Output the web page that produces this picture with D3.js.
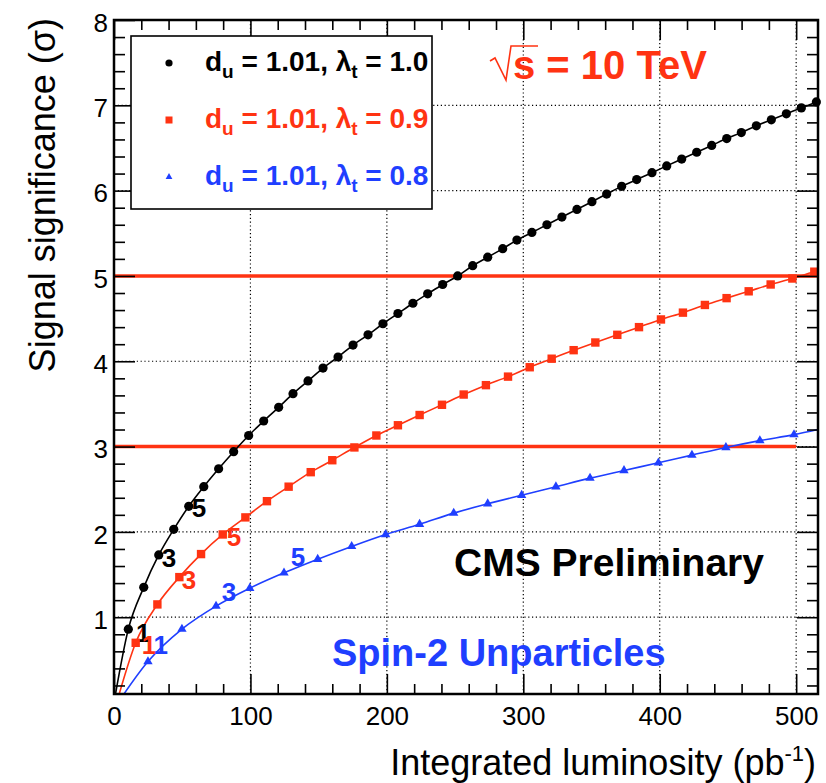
<!DOCTYPE html>
<meta charset="utf-8">
<body style="margin:0;background:#fff">
<script src="https://d3js.org/d3.v7.min.js"></script>
<script>

// integrated luminosity (pb^-1) and significance (sigma)
var blackLumi = [10.5, 21.8, 32.8, 43.8, 54.8, 65.8, 76.7, 87.7, 98.7, 109.7, 120.7,
  131.2, 142.2, 153.2, 164.2, 175.2, 186.2, 197.1, 208.1, 219.1, 229.9, 240.9, 251.9,
  262.9, 273.9, 284.9, 295.3, 306.3, 317.3, 328.3, 339.3, 350.3, 361.1, 372.1, 383.1,
  394.3, 405.1, 416.1, 427.1, 438.1, 449.1, 459.8, 470.8, 481.8, 492.8, 503.8, 514.8];
var blackSig = [0.86, 1.35, 1.73, 2.03, 2.30, 2.53, 2.74, 2.94, 3.13, 3.30, 3.46,
  3.62, 3.77, 3.92, 4.05, 4.19, 4.31, 4.44, 4.56, 4.68, 4.79, 4.90, 5.00,
  5.12, 5.22, 5.32, 5.42, 5.51, 5.60, 5.69, 5.78, 5.87, 5.96, 6.05, 6.13,
  6.21, 6.29, 6.37, 6.45, 6.53, 6.61, 6.68, 6.76, 6.83, 6.90, 6.97, 7.04];

var redLumi = [15.9, 31.8, 47.9, 63.8, 79.7, 96.3, 112.1, 128.0, 144.2, 160.0, 176.2,
  192.3, 208.1, 224.0, 240.4, 256.3, 272.6, 288.8, 304.7, 320.8, 336.9, 352.8,
  368.9, 384.8, 400.9, 417.0, 433.1, 449.0, 465.2, 481.3, 497.2, 513.3];
var redSig = [0.70, 1.15, 1.47, 1.74, 1.97, 2.17, 2.36, 2.53, 2.70, 2.84, 2.99,
  3.13, 3.25, 3.37, 3.49, 3.61, 3.72, 3.82, 3.93, 4.03, 4.13, 4.22,
  4.31, 4.40, 4.49, 4.57, 4.66, 4.74, 4.82, 4.90, 4.97, 5.05];

var blueLumi = [24.9, 49.8, 74.8, 99.5, 124.6, 149.3, 174.2, 199.1, 224.0, 249.0,
  273.9, 298.8, 323.9, 348.9, 373.8, 399.0, 423.6, 448.5, 473.4, 498.4];
var blueSig = [0.48, 0.86, 1.13, 1.34, 1.52, 1.68, 1.83, 1.97, 2.09, 2.22,
  2.33, 2.43, 2.53, 2.63, 2.72, 2.81, 2.90, 2.99, 3.07, 3.14];

// where the drawn curves start and end (black, red, blue)
var curveStartLumi = [0, 2, 3], curveStartSig = [0, 0, 0];
var curveEndLumi = [516, 516, 516], curveEndSig = [7.05, 5.06, 3.20];

var lambdas = ["1.0", "0.9", "0.8"];
var xTicks = [0, 100, 200, 300, 400, 500];
var yTicks = [1, 2, 3, 4, 5, 6, 7, 8];
var refSig = [5, 3], refEndLumi = [516, 500];

// small numbers written next to the curves
var noteText = ["1", "3", "5", "1", "3", "5", "1", "3", "5"];
var noteSeries = [0, 0, 0, 1, 1, 1, 2, 2, 2];
var noteLumi = [16.2, 35, 57, 20.3, 49.6, 82.6, 29, 79, 129.5];
var noteSig = [0.71, 1.585, 2.17, 0.57, 1.33, 1.83, 0.57, 1.19, 1.60];

var width = 826, height = 783;
var plotL = 114, plotR = 818, plotT = 20, plotB = 694;
var colors = ["#000000", "#ff3312", "#1f3fff"];
var font = "'Liberation Sans', Arial, Helvetica, sans-serif";

var series = [
  {lumi: blackLumi, sig: blackSig},
  {lumi: redLumi, sig: redSig},
  {lumi: blueLumi, sig: blueSig}
];

var x = d3.scaleLinear().domain([0, 516]).range([plotL, plotR]);
var y = d3.scaleLinear().domain([0.1, 8]).range([plotB, plotT]);

var svg = d3.select("body").append("svg")
   .attr("width", width)
   .attr("height", height)
   .style("font-family", font);

svg.append("defs").append("clipPath").attr("id", "plot")
  .append("rect").attr("x", plotL).attr("y", plotT)
  .attr("width", plotR - plotL).attr("height", plotB - plotT);

// dotted grid
svg.append("g").selectAll("line").data(xTicks.filter(function(d){ return d > 0; }))
  .join("line")
  .attr("x1", function(d){ return x(d); }).attr("x2", function(d){ return x(d); })
  .attr("y1", plotB).attr("y2", plotT)
  .attr("stroke", "#000").attr("stroke-width", 1.2).attr("stroke-dasharray", "1.2,2.6");
svg.append("g").selectAll("line").data(yTicks.filter(function(d){ return d < 8; }))
  .join("line")
  .attr("y1", function(d){ return y(d); }).attr("y2", function(d){ return y(d); })
  .attr("x1", plotL).attr("x2", plotR)
  .attr("stroke", "#000").attr("stroke-width", 1.2).attr("stroke-dasharray", "1.2,2.6");

// 5 sigma and 3 sigma lines
svg.append("g").selectAll("line").data(refSig).join("line")
  .attr("x1", x(0)).attr("x2", function(d, i){ return x(refEndLumi[i]); })
  .attr("y1", function(d){ return y(d); }).attr("y2", function(d){ return y(d); })
  .attr("stroke", colors[1]).attr("stroke-width", 3.5);

// curves
var line = d3.line()
  .x(function(d){ return x(d[0]); })
  .y(function(d){ return y(d[1]); })
  .curve(d3.curveMonotoneX);

series.forEach(function(s, i){
  var pts = [[curveStartLumi[i], curveStartSig[i]]];
  s.lumi.forEach(function(l, j){ pts.push([l, s.sig[j]]); });
  pts.push([curveEndLumi[i], curveEndSig[i]]);
  svg.append("path").datum(pts)
    .attr("clip-path", "url(#plot)")
    .attr("d", line)
    .attr("fill", "none")
    .attr("stroke", colors[i])
    .attr("stroke-width", 1.6);
});

// notes next to the curves
svg.append("g").selectAll("text").data(noteText).join("text")
  .attr("x", function(d, i){ return x(noteLumi[i]); })
  .attr("y", function(d, i){ return y(noteSig[i]); })
  .attr("fill", function(d, i){ return colors[noteSeries[i]]; })
  .style("font-size", "26px").style("font-weight", "bold")
  .text(function(d){ return d; });

// markers
svg.append("g").selectAll("circle").data(blackLumi).join("circle")
  .attr("cx", function(d){ return x(d); })
  .attr("cy", function(d, i){ return y(blackSig[i]); })
  .attr("r", 4.6).attr("fill", colors[0]);

svg.append("g").selectAll("rect").data(redLumi).join("rect")
  .attr("x", function(d){ return x(d) - 4.2; })
  .attr("y", function(d, i){ return y(redSig[i]) - 4.2; })
  .attr("width", 8.4).attr("height", 8.4).attr("fill", colors[1]);

var tri = d3.symbol().type(d3.symbolTriangle).size(38);
svg.append("g").selectAll("path").data(blueLumi).join("path")
  .attr("transform", function(d, i){ return "translate(" + x(d) + "," + y(blueSig[i]) + ")"; })
  .attr("d", tri).attr("fill", colors[2]);

// axes with inward ticks
function addAxis(axis, tx, ty) {
  var g = svg.append("g").attr("transform", "translate(" + tx + "," + ty + ")").call(axis);
  g.select(".domain").remove();
  g.selectAll("line").attr("stroke", "#000").attr("stroke-width", 1.6);
  g.selectAll("text").attr("fill", "#000").style("font-size", "26px").style("font-family", font);
  return g;
}
var minorX = d3.range(0, 516, 20).filter(function(d){ return d % 100 != 0; });
var minorY = d3.range(0.2, 8, 0.2).filter(function(d){ return Math.abs(d - Math.round(d)) > 0.01; });

addAxis(d3.axisBottom(x).tickValues(xTicks).tickSize(-20).tickPadding(13), 0, plotB);
addAxis(d3.axisBottom(x).tickValues(minorX).tickSize(-10).tickFormat(""), 0, plotB);
addAxis(d3.axisTop(x).tickValues(xTicks).tickSize(-20).tickFormat(""), 0, plotT);
addAxis(d3.axisTop(x).tickValues(minorX).tickSize(-10).tickFormat(""), 0, plotT);
addAxis(d3.axisLeft(y).tickValues(yTicks).tickSize(-21).tickPadding(6), plotL, 0)
  .selectAll("text").attr("dy", "0.43em");
addAxis(d3.axisLeft(y).tickValues(minorY).tickSize(-11).tickFormat(""), plotL, 0);
addAxis(d3.axisRight(y).tickValues(yTicks).tickSize(-21).tickFormat(""), plotR, 0);
addAxis(d3.axisRight(y).tickValues(minorY).tickSize(-11).tickFormat(""), plotR, 0);

// frame
svg.append("rect").attr("x", plotL).attr("y", plotT)
  .attr("width", plotR - plotL).attr("height", plotB - plotT)
  .attr("fill", "none").attr("stroke", "#000").attr("stroke-width", 2.5);

// axis titles
svg.append("text")
  .attr("transform", "translate(55," + (plotT - 2) + ") rotate(-90)")
  .attr("text-anchor", "end")
  .style("font-size", "36px")
  .text("Signal significance (σ)");

var xt = svg.append("text").attr("x", 816).attr("y", 775)
  .attr("text-anchor", "end").style("font-size", "36px");
xt.append("tspan").text("Integrated luminosity (pb");
xt.append("tspan").attr("dy", -14).style("font-size", "22px").text("-1");
xt.append("tspan").attr("dy", 14).text(")");

// legend
var leg = svg.append("g");
leg.append("rect").attr("x", 131).attr("y", 36).attr("width", 301).attr("height", 173)
  .attr("fill", "#fff").attr("stroke", "#000").attr("stroke-width", 1.6);
var rowY = [71, 128, 185];
leg.append("circle").attr("cx", 169).attr("cy", rowY[0] - 8).attr("r", 3.6).attr("fill", colors[0]);
leg.append("rect").attr("x", 165.5).attr("y", rowY[1] - 11.5).attr("width", 7).attr("height", 7).attr("fill", colors[1]);
leg.append("path").attr("transform", "translate(169," + (rowY[2] - 8) + ")")
  .attr("d", d3.symbol().type(d3.symbolTriangle).size(20)).attr("fill", colors[2]);
lambdas.forEach(function(l, i){
  var t = leg.append("text").attr("x", 205).attr("y", rowY[i])
    .attr("fill", colors[i]).style("font-size", "28px").style("font-weight", "bold");
  t.append("tspan").text("d");
  t.append("tspan").attr("dy", 7).style("font-size", "19px").text("u");
  t.append("tspan").attr("dy", -7).text(" = 1.01, λ");
  t.append("tspan").attr("dy", 7).style("font-size", "19px").text("t");
  t.append("tspan").attr("dy", -7).text(" = " + l);
});

// energy label
svg.append("path").attr("d", "M490,61 L495,58 L506,80 L511,46 L538,46")
  .attr("fill", "none").attr("stroke", colors[1]).attr("stroke-width", 1.6);
svg.append("text").attr("x", 513).attr("y", 79)
  .attr("fill", colors[1]).style("font-size", "40px").style("font-weight", "bold")
  .text("s = 10 TeV");

svg.append("text").attr("x", 454).attr("y", 576)
  .style("font-size", "39px").style("font-weight", "bold")
  .text("CMS Preliminary");

svg.append("text").attr("x", 332).attr("y", 666)
  .attr("fill", colors[2]).style("font-size", "38px").style("font-weight", "bold")
  .text("Spin-2 Unparticles");

</script>
</body>
